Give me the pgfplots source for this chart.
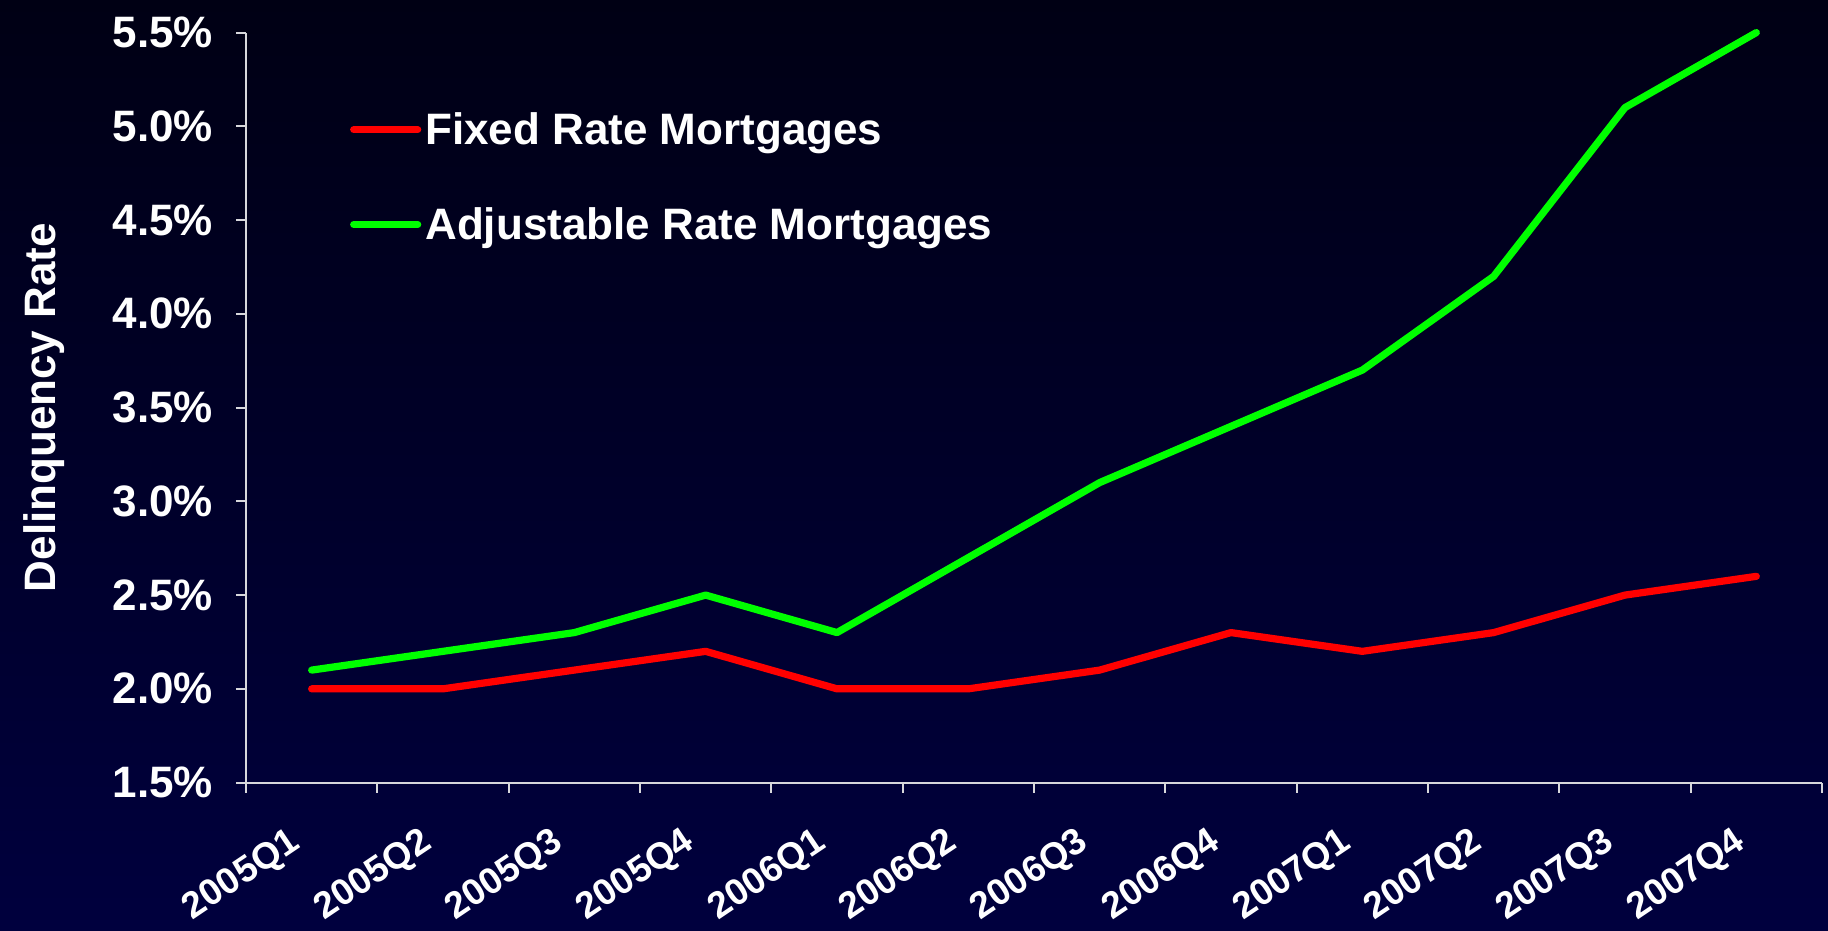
\documentclass[border=0pt]{standalone}
\usepackage{fontspec}
\setmainfont{Liberation Sans}
\usepackage{pgfplots}
\pgfplotsset{compat=1.18}
\definecolor{bgtop}{RGB}{0,0,20}
\definecolor{bgbot}{RGB}{0,0,62}
\definecolor{fixedred}{RGB}{255,0,0}
\definecolor{armgreen}{RGB}{0,255,0}
\definecolor{axisgray}{RGB}{215,215,220}
\begin{document}
\begin{tikzpicture}
\shade[top color=bgtop,bottom color=bgbot] (-123pt,-74pt) rectangle (791pt,391.3pt);
\begin{axis}[
  at={(0,0)}, anchor=south west,
  width=788pt, height=375pt, scale only axis,
  xmin=-0.5, xmax=11.5, ymin=1.5, ymax=5.5,
  clip=false,
  axis lines*=left,
  axis line style={axisgray, line width=1pt},
  tick align=outside,
  tick style={axisgray, line width=1pt},
  major tick length=5pt, minor tick length=5pt,
  xtick={0,...,11},
  xticklabels={2005Q1,2005Q2,2005Q3,2005Q4,2006Q1,2006Q2,2006Q3,2006Q4,2007Q1,2007Q2,2007Q3,2007Q4},
  major x tick style={draw=none},
  minor xtick={-0.5,0.5,...,11.5},
  ytick={1.5,2,2.5,3,3.5,4,4.5,5,5.5},
  yticklabels={1.5\%,2.0\%,2.5\%,3.0\%,3.5\%,4.0\%,4.5\%,5.0\%,5.5\%},
  yticklabel style={font=\bfseries\fontsize{22}{26}\selectfont, text=white, xshift=-8pt},
  xticklabel style={font=\bfseries\fontsize{18.5}{22}\selectfont, text=white, xshift=-12pt, yshift=-16pt, rotate=34, anchor=north east, inner sep=0pt},
  ylabel={Delinquency Rate},
  ylabel style={font=\bfseries\fontsize{22}{26}\selectfont, text=white, at={(axis description cs:-0.128,0.5)}, anchor=center},
  legend style={at={(axis description cs:0.062,0.905)}, anchor=north west, draw=none, fill=none, text=white,
    font=\bfseries\fontsize{22}{26}\selectfont, row sep=26pt, cells={anchor=west}},
  legend image code/.code={\draw[#1, line cap=round] (0pt,0pt) -- (32pt,0pt);},
]
\addplot[fixedred, line width=3.6pt, line join=round, line cap=round] coordinates {
  (0,2.0) (1,2.0) (2,2.1) (3,2.2) (4,2.0) (5,2.0) (6,2.1) (7,2.3) (8,2.2) (9,2.3) (10,2.5) (11,2.6)};
\addlegendentry{Fixed Rate Mortgages}
\addplot[armgreen, line width=3.6pt, line join=round, line cap=round] coordinates {
  (0,2.1) (1,2.2) (2,2.3) (3,2.5) (4,2.3) (5,2.7) (6,3.1) (7,3.4) (8,3.7) (9,4.2) (10,5.1) (11,5.5)};
\addlegendentry{Adjustable Rate Mortgages}
\end{axis}
\pgfresetboundingbox
\path (-123pt,-74pt) rectangle (791pt,391.3pt);
\end{tikzpicture}
\end{document}
